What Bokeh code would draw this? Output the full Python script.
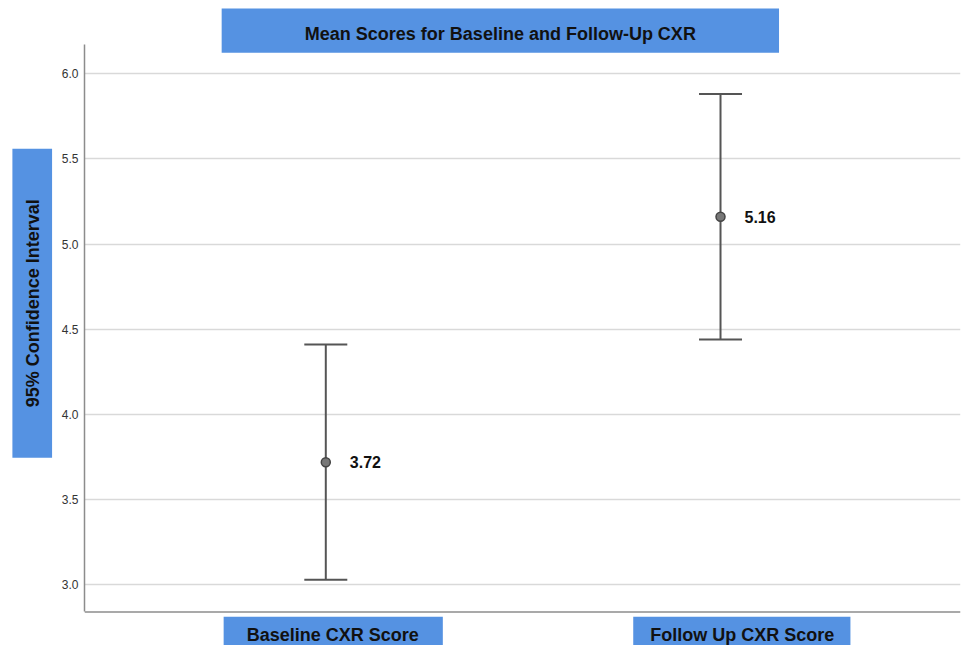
import math
from bokeh.plotting import figure
from bokeh.layouts import row
from bokeh.models import (Range1d, FixedTicker, Span, Whisker,
                          ColumnDataSource, TeeHead, NumeralTickFormatter)
from bokeh.embed import file_html
from bokeh.resources import INLINE
from bokeh.core.properties import value

# ---- data ----
categories = ["Baseline CXR Score", "Follow Up CXR Score"]
means = [3.72, 5.16]
lower = [3.03, 4.44]
upper = [4.41, 5.88]
mean_labels = ["3.72", "5.16"]
y_ticks = [3.0, 3.5, 4.0, 4.5, 5.0, 5.5, 6.0]
title_text = "Mean Scores for Baseline and Follow-Up CXR"
y_title = "95% Confidence Interval"

x_pos = list(range(len(categories)))

# ---- layout: reference-pixel anchors scaled onto the canvas ----
W, H = 962, 645
SX, SY = W / 970, H / 653

def cx(r):
    return r * SX

def cy(r):
    return r * SY

LEFT_W = 54                       # strip holding the y-axis title box
MAIN_W = W - LEFT_W
FL = 84                           # main frame left (canvas px)
FR = 960                          # main frame right (canvas px)
FW = FR - FL

# horizontal scale: category 0 at ref px 328, category 1 at ref px 726
XA, XB = cx(328), cx(726)
def x_of(c):
    return (c - XA) / (XB - XA)

# vertical scale: 6.0 at ref px 74, 3.0 at ref px 591.7
YA, YB = cy(74), cy(591.7)
def y_of(c):
    return 6.0 - (c - YA) / (YB - YA) * 3.0

X0, X1 = x_of(FL), x_of(FR)
Y1, Y0 = y_of(0), y_of(H)
AXIS_TOP, AXIS_BOTTOM = y_of(cy(45)), y_of(cy(619))

FONT = "Liberation Sans"
BOX = "#5592E2"
GRID = "#D9D9D9"
AX = "#8C8C8C"
BAR = "#555555"
TXT = "#111111"

# ---- left strip: y-axis title ----
pl = figure(width=LEFT_W, height=H, output_backend="svg", toolbar_location=None,
            x_range=Range1d(0, LEFT_W), y_range=Range1d(H, 0),
            x_axis_location=None, y_axis_location=None, title=None,
            min_border_left=0, min_border_right=0,
            min_border_top=0, min_border_bottom=0)
pl.outline_line_color = None
pl.grid.visible = False
pl.quad(left=[cx(12)], right=[cx(52)], top=[cy(150)], bottom=[cy(463)],
        fill_color=BOX, line_color=None)
pl.text(x=[cx(33)], y=[cy(306.5)], text=[y_title], angle=math.pi / 2,
        text_font=value(FONT), text_font_size="18px", text_font_style="bold",
        text_color=TXT, text_align="center", text_baseline="middle")

# ---- main plot ----
p = figure(width=MAIN_W, height=H, output_backend="svg", toolbar_location=None,
           x_range=Range1d(X0, X1), y_range=Range1d(Y0, Y1),
           x_axis_location=None, title=None,
           min_border_left=FL - LEFT_W, min_border_right=W - FR,
           min_border_top=0, min_border_bottom=0)
p.outline_line_color = None
p.background_fill_color = "white"
p.border_fill_color = "white"

p.yaxis.ticker = FixedTicker(ticks=y_ticks)
p.yaxis.formatter = NumeralTickFormatter(format="0.0")
p.yaxis.bounds = (AXIS_BOTTOM, AXIS_TOP)
p.yaxis.major_tick_line_color = None
p.yaxis.minor_tick_line_color = None
p.yaxis.major_tick_out = 0
p.yaxis.major_tick_in = 0
p.yaxis.axis_line_color = AX
p.yaxis.axis_line_width = 1.5
p.yaxis.major_label_text_font = FONT
p.yaxis.major_label_text_font_size = "12px"
p.yaxis.major_label_text_color = "#333333"
p.yaxis.major_label_standoff = 6

p.xgrid.grid_line_color = None
p.ygrid.grid_line_color = GRID
p.ygrid.grid_line_width = 1.5

# bottom axis line
p.add_layout(Span(location=AXIS_BOTTOM, dimension="width",
                  line_color=AX, line_width=1.5))

# decorative boxes: title and category labels (ref px -> canvas -> data)
boxes = [(223, 785, 8, 53), (225, 446, 624, 670), (638, 857, 624, 670)]
p.quad(left=[x_of(cx(b[0])) for b in boxes], right=[x_of(cx(b[1])) for b in boxes],
       top=[y_of(cy(b[2])) for b in boxes], bottom=[y_of(cy(b[3])) for b in boxes],
       fill_color=BOX, line_color=None, level="underlay")

texts = [title_text] + categories
tx = [504, 335, 748]
ty = [33.5, 642.5, 642.5]
p.text(x=[x_of(cx(v)) for v in tx], y=[y_of(cy(v)) for v in ty], text=texts,
       text_font=value(FONT), text_font_size="18px", text_font_style="bold",
       text_color=TXT, text_align="center", text_baseline="middle")

# error bars
src = ColumnDataSource(dict(x=x_pos, mean=means, lower=lower, upper=upper,
                            lab=mean_labels))
wh = Whisker(source=src, base="x", upper="upper", lower="lower",
             line_color=BAR, line_width=2,
             upper_head=TeeHead(size=43, line_color=BAR, line_width=2),
             lower_head=TeeHead(size=43, line_color=BAR, line_width=2))
p.add_layout(wh)

p.scatter("x", "mean", source=src, size=9, fill_color="#777777",
          line_color="#444444", line_width=1.5)
p.text("x", "mean", text="lab", source=src, x_offset=24,
       text_font=value(FONT), text_font_size="16px", text_font_style="bold",
       text_color=TXT, text_baseline="middle", text_align="left")

layout = row(pl, p, spacing=0)
open("out.html", "w").write(file_html(layout, INLINE))
